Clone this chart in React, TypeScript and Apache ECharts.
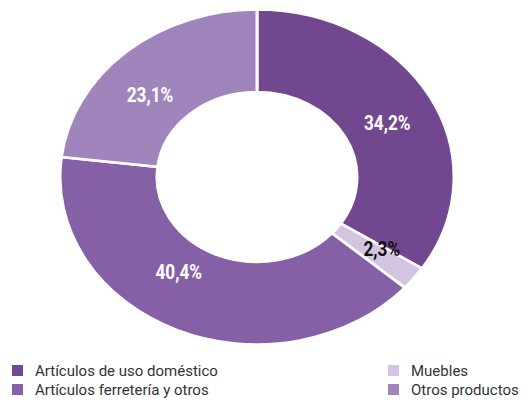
import React, { useEffect, useRef } from "react";
import * as echarts from "echarts";

const categories = [
  "Artículos de uso doméstico",
  "Muebles",
  "Artículos ferretería y otros",
  "Otros productos",
];
const values = [34.2, 2.3, 40.4, 23.1];
const labels = ["34,2%", "2,3%", "40,4%", "23,1%"];
const colors = ["#71488f", "#d3c5e1", "#8660a7", "#a085bd"];
const labelColors = ["#ffffff", "#111111", "#ffffff", "#ffffff"];
// label placement tweaks (degrees shift from mid-angle, radius)
const labelNudge = [
  { da: 2.4, r: 145 },
  { da: -3, r: 151 },
  { da: 11, r: 136 },
  { da: -6.4, r: 144 },
];

const CX = 257;
const CY = 177;
const R = 197;
const R0 = 100;
const SY = 0.85;
const FONT = "Roboto, 'Noto Sans', sans-serif";

export default function App() {
  const ref = useRef<HTMLDivElement>(null);
  useEffect(() => {
    document.body.style.margin = "0";
    const chart = echarts.init(ref.current!, null, { renderer: "svg" });
    const total = values.reduce((a, b) => a + b, 0);
    const cum: number[] = [];
    values.reduce((acc, v, i) => {
      cum[i] = acc;
      return acc + v;
    }, 0);

    const series = categories.map((name, i) => ({
      type: "custom",
      name,
      coordinateSystem: "none",
      itemStyle: { color: colors[i] },
      data: [[values[i]]],
      renderItem: (params: any, api: any) => {
        const v = api.value(0) as number;
        const start = -Math.PI / 2 + (2 * Math.PI * cum[i]) / total;
        const end = start + (2 * Math.PI * v) / total;
        const mid = (start + end) / 2 + (labelNudge[i].da * Math.PI) / 180;
        const lr = labelNudge[i].r;
        return {
          type: "group",
          children: [
            {
              type: "sector",
              x: CX,
              y: CY,
              scaleY: SY,
              shape: { cx: 0, cy: 0, r: R, r0: R0, startAngle: start, endAngle: end, clockwise: true },
              style: { fill: colors[i], stroke: "#ffffff", lineWidth: 3 },
            },
            {
              type: "text",
              x: CX + lr * Math.cos(mid),
              y: CY + lr * Math.sin(mid) * SY,
              scaleX: 0.82,
              style: {
                text: labels[i],
                fill: labelColors[i],
                font: `bold 21px ${FONT}`,
                align: "center",
                verticalAlign: "middle",
              },
            },
          ],
        };
      },
    }));

    const legendCommon = {
      orient: "vertical",
      top: 358,
      itemWidth: 11,
      itemHeight: 11,
      itemGap: 4,
      icon: "rect",
      selectedMode: false,
      textStyle: {
        fontFamily: FONT,
        fontSize: 15,
        color: "#333333",
        padding: [0, 0, 0, 7],
      },
    };

    chart.setOption({
      animation: false,
      backgroundColor: "#ffffff",
      legend: [
        { ...legendCommon, left: 7, data: [categories[0], categories[2]] },
        { ...legendCommon, left: 383, data: [categories[1], categories[3]] },
      ],
      series,
    });
    return () => chart.dispose();
  }, []);
  return <div ref={ref} style={{ width: 528, height: 409 }} />;
}
